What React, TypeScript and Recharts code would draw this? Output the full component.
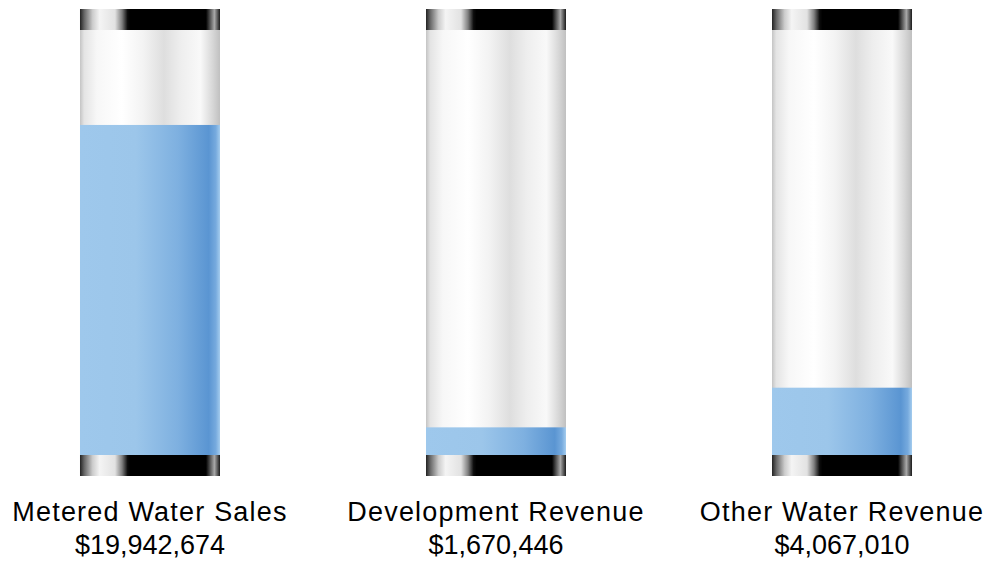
import React from "react";
import { BarChart, Bar, XAxis, YAxis } from "recharts";

const categories = ["Metered Water Sales", "Development Revenue", "Other Water Revenue"];
const valueLabels = ["$19,942,674", "$1,670,446", "$4,067,010"];
const values = [19942674, 1670446, 4067010];
const positions = [0, 1, 2];

const total = values.reduce((a, b) => a + b, 0);

const data = categories.map((name, i) => ({ name, pos: positions[i], value: values[i], label: valueLabels[i] }));

const CAP_H = 21;

const GlassBackground = (props: any) => {
  const { x, y, width, height } = props;
  return (
    <g>
      <rect x={x} y={y} width={width} height={height} fill="url(#glassGrad)" />
      <rect x={x} y={y - CAP_H} width={width} height={CAP_H} fill="url(#capGrad)" />
      <rect x={x} y={y + height} width={width} height={CAP_H} fill="url(#capGrad)" />
    </g>
  );
};

const FillShape = (props: any) => {
  const { x, y, width, height } = props;
  if (!height || height <= 0) return null;
  return <rect x={x} y={y} width={width} height={height} fill="url(#blueGrad)" />;
};

const LabelTick = (props: any) => {
  const { x, y, payload } = props;
  const i = positions.indexOf(payload.value);
  if (i < 0) return null;
  return (
    <g>
      <text x={x} y={y + 58} textAnchor="middle" fontFamily="'Liberation Sans', Arial, sans-serif" fontSize={27} letterSpacing={1.2} fill="#000">
        {categories[i]}
      </text>
      <text x={x} y={y + 91} textAnchor="middle" fontFamily="'Liberation Sans', Arial, sans-serif" fontSize={27} fill="#000">
        {valueLabels[i]}
      </text>
    </g>
  );
};

export default function App() {
  return (
    <div style={{ position: "absolute", left: 0, top: 0, width: 990, height: 561, overflow: "hidden" }}>
      <BarChart width={990} height={561} data={data} margin={{ top: 30, right: 0, bottom: 0, left: 0 }} style={{ overflow: "visible" }}>
        <defs>
          <linearGradient id="glassGrad" x1="0" y1="0" x2="1" y2="0">
            <stop offset="0%" stopColor="#c4c4c4" />
            <stop offset="3%" stopColor="#e4e4e4" />
            <stop offset="12%" stopColor="#f7f7f7" />
            <stop offset="30%" stopColor="#ffffff" />
            <stop offset="45%" stopColor="#f3f3f3" />
            <stop offset="60%" stopColor="#dedede" />
            <stop offset="72%" stopColor="#eeeeee" />
            <stop offset="86%" stopColor="#f9f9f9" />
            <stop offset="95%" stopColor="#d6d6d6" />
            <stop offset="100%" stopColor="#c0c0c0" />
          </linearGradient>
          <linearGradient id="blueGrad" x1="0" y1="0" x2="1" y2="0">
            <stop offset="0%" stopColor="#9ec8ec" />
            <stop offset="40%" stopColor="#9cc6ea" />
            <stop offset="70%" stopColor="#7eb0e0" />
            <stop offset="92%" stopColor="#5a95d2" />
            <stop offset="97%" stopColor="#76aade" />
            <stop offset="100%" stopColor="#a4ccee" />
          </linearGradient>
          <linearGradient id="capGrad" x1="0" y1="0" x2="1" y2="0">
            <stop offset="0%" stopColor="#222222" />
            <stop offset="3%" stopColor="#666666" />
            <stop offset="9%" stopColor="#cccccc" />
            <stop offset="14%" stopColor="#f4f4f4" />
            <stop offset="25%" stopColor="#e2e2e2" />
            <stop offset="30%" stopColor="#808080" />
            <stop offset="34%" stopColor="#0c0c0c" />
            <stop offset="36%" stopColor="#000000" />
            <stop offset="90%" stopColor="#000000" />
            <stop offset="93%" stopColor="#555555" />
            <stop offset="96%" stopColor="#a8a8a8" />
            <stop offset="98.5%" stopColor="#505050" />
            <stop offset="100%" stopColor="#1a1a1a" />
          </linearGradient>
        </defs>
        <XAxis
          dataKey="pos"
          type="number"
          domain={[-0.4335, 2.4277]}
          ticks={positions}
          axisLine={false}
          tickLine={false}
          height={106}
          tick={<LabelTick />}
          interval={0}
        />
        <YAxis hide domain={[0, total]} type="number" />
        <Bar
          dataKey="value"
          barSize={140}
          isAnimationActive={false}
          background={<GlassBackground />}
          shape={<FillShape />}
        />
      </BarChart>
    </div>
  );
}
